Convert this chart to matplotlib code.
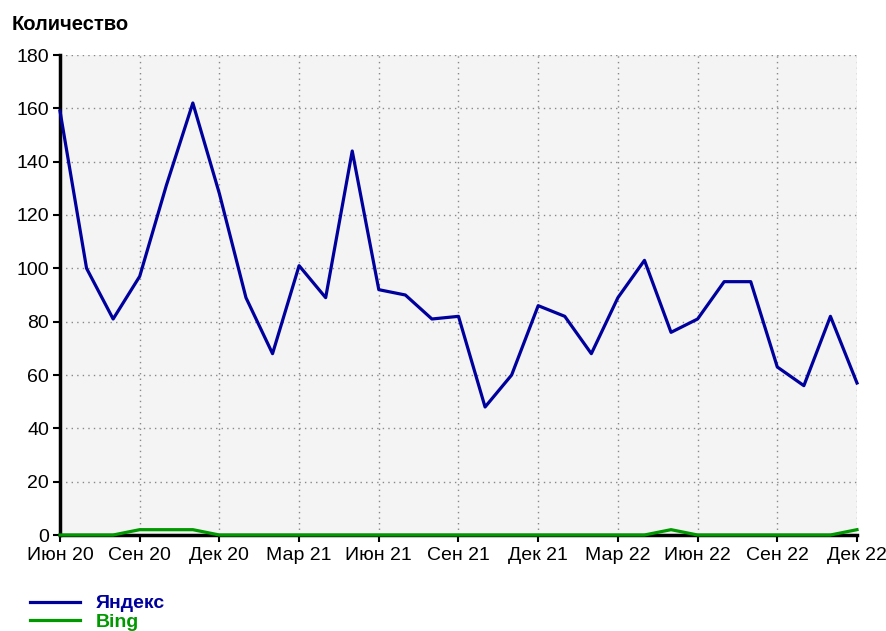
import numpy as np
import matplotlib.pyplot as plt

plt.rcParams['font.family'] = ['Liberation Sans', 'DejaVu Sans']

months = ["Июн 20", "Июл 20", "Авг 20", "Сен 20", "Окт 20", "Ноя 20", "Дек 20",
          "Янв 21", "Фев 21", "Мар 21", "Апр 21", "Май 21", "Июн 21", "Июл 21",
          "Авг 21", "Сен 21", "Окт 21", "Ноя 21", "Дек 21", "Янв 22", "Фев 22",
          "Мар 22", "Апр 22", "Май 22", "Июн 22", "Июл 22", "Авг 22", "Сен 22",
          "Окт 22", "Ноя 22", "Дек 22"]
yandex = [159, 100, 81, 97, 131, 162, 128, 89, 68, 101, 89, 144, 92, 90,
          81, 82, 48, 60, 86, 82, 68, 89, 103, 76, 81, 95, 95, 63, 56, 82, 57]
bing = [0, 0, 0, 2, 2, 2, 0, 0, 0, 0, 0, 0, 0, 0,
        0, 0, 0, 0, 0, 0, 0, 0, 0, 2, 0, 0, 0, 0, 0, 0, 2]

x = np.arange(len(months))

fig = plt.figure(figsize=(8.87, 6.31), dpi=100)
ax = fig.add_axes([60 / 887, 1 - 535 / 631, 797 / 887, 480 / 631])
ax.set_facecolor('#f4f4f4')

ax.plot(x, yandex, color='#00009c', lw=2.3, label='Яндекс', zorder=4, clip_on=False)
ax.plot(x, bing, color='#009900', lw=2.3, label='Bing', zorder=4, clip_on=False)

ax.set_xlim(0, 30)
ax.set_ylim(0, 180)
ax.set_xticks(x[::3])
ax.set_xticklabels(months[::3])
ax.set_yticks(np.arange(0, 181, 20))
ax.grid(True, color='#888888', linestyle=(0, (1, 3)), linewidth=1)
ax.set_axisbelow(True)

for s in ['top', 'right']:
    ax.spines[s].set_visible(False)
for s in ['left', 'bottom']:
    ax.spines[s].set_linewidth(2.5)
    ax.spines[s].set_zorder(3)
ax.tick_params(axis='both', labelsize=14, colors='black', length=5, width=1.5,
               direction='out', pad=3)
ax.tick_params(axis='x', pad=4)

fig.text(12 / 887, 1 - 25 / 631, 'Количество', fontsize=14.5, fontweight='bold',
         va='center', ha='left')

leg = fig.legend(loc='upper left', bbox_to_anchor=(20 / 887, 1 - 585 / 631),
                 frameon=False, fontsize=14, handlelength=2.6, handletextpad=0.8,
                 labelspacing=0.05, borderpad=0)
for t, h in zip(leg.get_texts(), leg.get_lines()):
    t.set_color(h.get_color())
    t.set_fontweight('bold')

fig.savefig('out.png', dpi=100)
